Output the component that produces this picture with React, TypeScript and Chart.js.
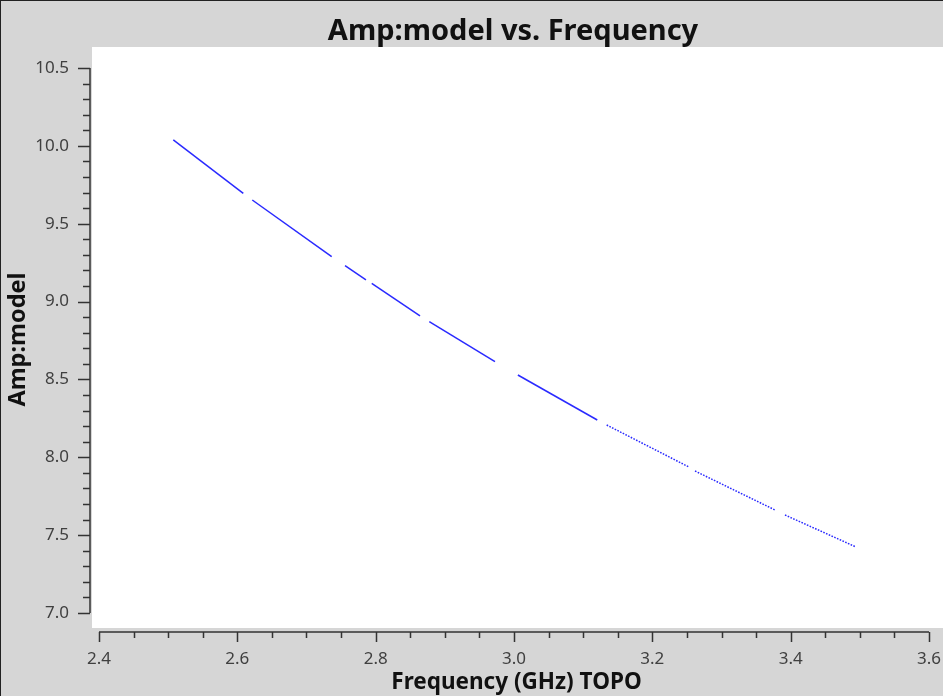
import { useEffect, useRef } from "react";
import { Chart, registerables } from "chart.js";

Chart.register(...registerables);

const chartTitle = "Amp:model vs. Frequency";
const xAxisTitle = "Frequency (GHz) TOPO";
const yAxisTitle = "Amp:model";

const xTickValues = [2.4, 2.6, 2.8, 3.0, 3.2, 3.4, 3.6];
const yTickValues = [7.0, 7.5, 8.0, 8.5, 9.0, 9.5, 10.0, 10.5];
const xMinorStep = 0.05;
const yMinorStep = 0.1;

// Amp:model samples; null marks a gap between channel chunks
const freqGHz = [
  2.5074, 2.6086, 2.615,
  2.6216, 2.7364, 2.746,
  2.7557, 2.786, 2.79,
  2.7943, 2.8641, 2.871,
  2.8775, 2.9725, 2.99,
  3.0056, 3.1204, 3.127,
  3.134, 3.252, 3.257,
  3.2617, 3.3774, 3.385,
  3.3918, 3.4945,
];
const ampModel = [
  10.038, 9.6954, null,
  9.6524, 9.2882, null,
  9.2304, 9.1386, null,
  9.1174, 8.9074, null,
  8.8708, 8.6139, null,
  8.5285, 8.2395, null,
  8.2074, 7.9396, null,
  7.912, 7.6615, null,
  7.6294, 7.4239,
];

const decorPlugin = {
  id: "decor",
  beforeDraw(chart: any) {
    const { ctx, chartArea: a, width, height } = chart;
    ctx.save();
    ctx.fillStyle = "#d6d6d6";
    ctx.fillRect(0, 0, width, height);
    ctx.fillStyle = "#ffffff";
    ctx.fillRect(a.left + 2, a.top, a.right - a.left - 2, a.bottom - a.top - 4);
    ctx.fillStyle = "#222222";
    ctx.fillRect(0, 0, width, 1);
    ctx.fillRect(0, 0, 1, height);
    ctx.restore();
  },
  afterDraw(chart: any) {
    const { ctx, chartArea: a } = chart;
    const xs = chart.scales.x;
    const ys = chart.scales.y;
    ctx.save();
    ctx.strokeStyle = "#333333";
    ctx.lineWidth = 1.5;
    // x axis
    const xFirst = xTickValues[0];
    const xLast = xTickValues[xTickValues.length - 1];
    const xa = xs.getPixelForValue(xFirst);
    const xb = xs.getPixelForValue(xLast);
    const yLine = a.bottom;
    ctx.beginPath();
    ctx.moveTo(xa, yLine);
    ctx.lineTo(xb, yLine);
    const nx = Math.round((xLast - xFirst) / xMinorStep);
    for (let i = 0; i <= nx; i++) {
      const v = xFirst + i * xMinorStep;
      const major = xTickValues.some((t) => Math.abs(t - v) < 1e-6);
      const px = Math.round(xs.getPixelForValue(v)) + 0.5;
      ctx.moveTo(px, yLine);
      ctx.lineTo(px, yLine + (major ? 10 : 6));
    }
    // y axis
    const yFirst = yTickValues[0];
    const yLast = yTickValues[yTickValues.length - 1];
    const ya = ys.getPixelForValue(yFirst);
    const yb = ys.getPixelForValue(yLast);
    const xLine = a.left;
    ctx.moveTo(xLine, ya);
    ctx.lineTo(xLine, yb);
    const ny = Math.round((yLast - yFirst) / yMinorStep);
    for (let i = 0; i <= ny; i++) {
      const v = yFirst + i * yMinorStep;
      const major = yTickValues.some((t) => Math.abs(t - v) < 1e-6);
      const py = Math.round(ys.getPixelForValue(v)) + 0.5;
      ctx.moveTo(xLine, py);
      ctx.lineTo(xLine - (major ? 12 : 7), py);
    }
    ctx.stroke();
    // title
    ctx.fillStyle = "#111111";
    ctx.font = "bold 29px 'Noto Sans'";
    ctx.textAlign = "center";
    ctx.textBaseline = "alphabetic";
    ctx.fillText(chartTitle, (xa + xb) / 2 - 1, 40);
    ctx.restore();
  },
};

export default function App() {
  const ref = useRef<HTMLCanvasElement | null>(null);
  useEffect(() => {
    document.body.style.margin = "0";
    const canvas = ref.current;
    if (!canvas) return;
    const points = freqGHz.map((f, i) => ({ x: f, y: ampModel[i] }));
    const chart = new Chart(canvas, {
      type: "scatter",
      data: {
        datasets: [
          {
            data: points as any,
            showLine: true,
            spanGaps: false,
            borderColor: "#2a2aff",
            borderWidth: 1.5,
            pointRadius: 0,
            segment: {
              borderDash: (c: any) => (c.p0.parsed.x >= 3.13 ? [1.6, 1.4] : undefined),
            },
          },
        ],
      },
      options: {
        animation: false,
        responsive: false,
        devicePixelRatio: 1,
        layout: { padding: { top: 47, left: 0, right: 0, bottom: 0 } },
        plugins: {
          legend: { display: false },
          tooltip: { enabled: false },
          title: { display: false },
        },
        scales: {
          x: {
            type: "linear",
            min: 2.38699,
            max: 3.62024,
            grid: { display: false, drawTicks: false },
            border: { display: false },
            afterBuildTicks: (s: any) => {
              s.ticks = xTickValues.map((value) => ({ value }));
            },
            afterFit: (s: any) => {
              s.height = 64;
              s.paddingLeft = 0;
              s.paddingRight = 0;
            },
            ticks: {
              padding: 17,
              color: "#404040",
              font: { family: "'Noto Sans'", size: 17 },
              maxRotation: 0,
              autoSkip: false,
              callback: (v: any) => Number(v).toFixed(1),
            },
            title: {
              display: true,
              text: xAxisTitle,
              color: "#111111",
              font: { family: "'Noto Sans'", size: 22.5, weight: "bold" },
              padding: { top: 0, bottom: 0 },
            },
          },
          y: {
            type: "linear",
            min: 6.878,
            max: 10.6349,
            grid: { display: false, drawTicks: false },
            border: { display: false },
            afterBuildTicks: (s: any) => {
              s.ticks = yTickValues.map((value) => ({ value }));
            },
            afterFit: (s: any) => {
              s.width = 90;
              s.paddingTop = 0;
              s.paddingBottom = 0;
            },
            ticks: {
              padding: 21,
              color: "#404040",
              font: { family: "'Noto Sans'", size: 17 },
              autoSkip: false,
              callback: (v: any) => Number(v).toFixed(1),
            },
            title: {
              display: true,
              text: yAxisTitle,
              color: "#111111",
              font: { family: "'Noto Sans'", size: 23.5, weight: "bold" },
              padding: { top: 4, bottom: 0 },
            },
          },
        },
      },
      plugins: [decorPlugin],
    } as any);
    return () => chart.destroy();
  }, []);
  return (
    <div style={{ width: 943, height: 696 }}>
      <canvas ref={ref} width={943} height={696} style={{ display: "block" }} />
    </div>
  );
}
